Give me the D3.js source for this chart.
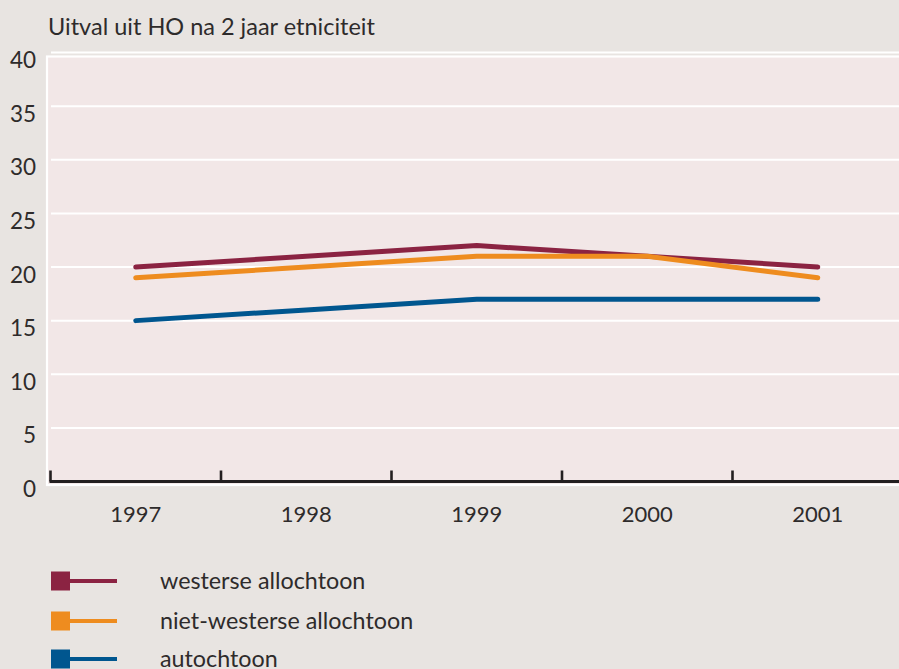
<!DOCTYPE html>
<html>
<head>
<meta charset="utf-8">
<script src="https://cdn.jsdelivr.net/npm/d3@7"></script>
<style>
  html, body { margin: 0; padding: 0; background: #e8e4e1; }
  svg { display: block; }
  text { font-family: "Lato", "Open Sans", sans-serif; fill: #2e2b2b; }
</style>
</head>
<body>
<svg id="chart" width="899" height="669"></svg>
<script>
const title = "Uitval uit HO na 2 jaar etniciteit";
const years = ["1997", "1998", "1999", "2000", "2001"];
const yTicks = [0, 5, 10, 15, 20, 25, 30, 35, 40];
const seriesNames = ["westerse allochtoon", "niet-westerse allochtoon", "autochtoon"];
const westerse = [20, 21, 22, 21, 20];
const nietWesterse = [19, 20, 21, 21, 19];
const autochtoon = [15, 16, 17, 17, 17];
const seriesColors = ["#8b2342", "#ee8c1f", "#00568f"];

const series = [westerse, nietWesterse, autochtoon];

const W = 899, H = 669;
const svg = d3.select("#chart");

svg.append("rect").attr("x", 0).attr("y", 0).attr("width", W).attr("height", H).attr("fill", "#e8e4e1");

const x = d3.scaleBand().domain(years).range([50.5, 903]).paddingInner(0).paddingOuter(0);
const y = d3.scaleLinear().domain([0, 40]).range([481.5, 52.5]);

// plot background
svg.append("rect")
  .attr("x", 47).attr("y", 56.5)
  .attr("width", W - 47 + 10).attr("height", 485 - 56.5)
  .attr("fill", "#f2e7e7").attr("stroke", "#ffffff").attr("stroke-width", 2.2);

// gridlines
svg.append("g").selectAll("line")
  .data(yTicks.filter(d => d > 0))
  .join("line")
  .attr("x1", 51).attr("x2", W)
  .attr("y1", d => y(d)).attr("y2", d => y(d))
  .attr("stroke", "#ffffff").attr("stroke-width", 2);

// y labels (hang below gridlines)
svg.append("g").selectAll("text")
  .data(yTicks)
  .join("text")
  .attr("x", 36).attr("y", d => y(d) + 15.5)
  .attr("text-anchor", "end")
  .attr("font-size", 22.5)
  .text(d => d);

// title
svg.append("text")
  .attr("x", 48).attr("y", 35)
  .attr("font-size", 23.5)
  .text(title);

// x axis line
svg.append("line")
  .attr("x1", 49.5).attr("x2", W)
  .attr("y1", y(0)).attr("y2", y(0))
  .attr("stroke", "#231f20").attr("stroke-width", 3);

// x ticks at band boundaries
svg.append("g").selectAll("line")
  .data(years)
  .join("line")
  .attr("x1", d => x(d)).attr("x2", d => x(d))
  .attr("y1", y(0) - 11).attr("y2", y(0))
  .attr("stroke", "#231f20").attr("stroke-width", 2.6);

// x labels
svg.append("g").selectAll("text")
  .data(years)
  .join("text")
  .attr("x", d => x(d) + x.bandwidth() / 2)
  .attr("y", 522)
  .attr("text-anchor", "middle")
  .attr("font-size", 22)
  .text(d => d);

// lines
const line = d3.line()
  .x((d, i) => x(years[i]) + x.bandwidth() / 2)
  .y(d => y(d));

svg.append("g").selectAll("path")
  .data(series)
  .join("path")
  .attr("d", d => line(d))
  .attr("fill", "none")
  .attr("stroke", (d, i) => seriesColors[i])
  .attr("stroke-width", 5)
  .attr("stroke-linecap", "round")
  .attr("stroke-linejoin", "round");

// legend
const legendY = [581, 621, 659];
const lg = svg.append("g").selectAll("g")
  .data(seriesNames)
  .join("g")
  .attr("transform", (d, i) => `translate(0,${legendY[i]})`);

lg.append("line")
  .attr("x1", 65).attr("x2", 117)
  .attr("y1", 0).attr("y2", 0)
  .attr("stroke", (d, i) => seriesColors[i])
  .attr("stroke-width", 4);
lg.append("rect")
  .attr("x", 51).attr("y", -9.5)
  .attr("width", 19).attr("height", 19)
  .attr("fill", (d, i) => seriesColors[i]);
lg.append("text")
  .attr("x", 160).attr("y", 7.5)
  .attr("font-size", 23.3)
  .text(d => d);
</script>
</body>
</html>
